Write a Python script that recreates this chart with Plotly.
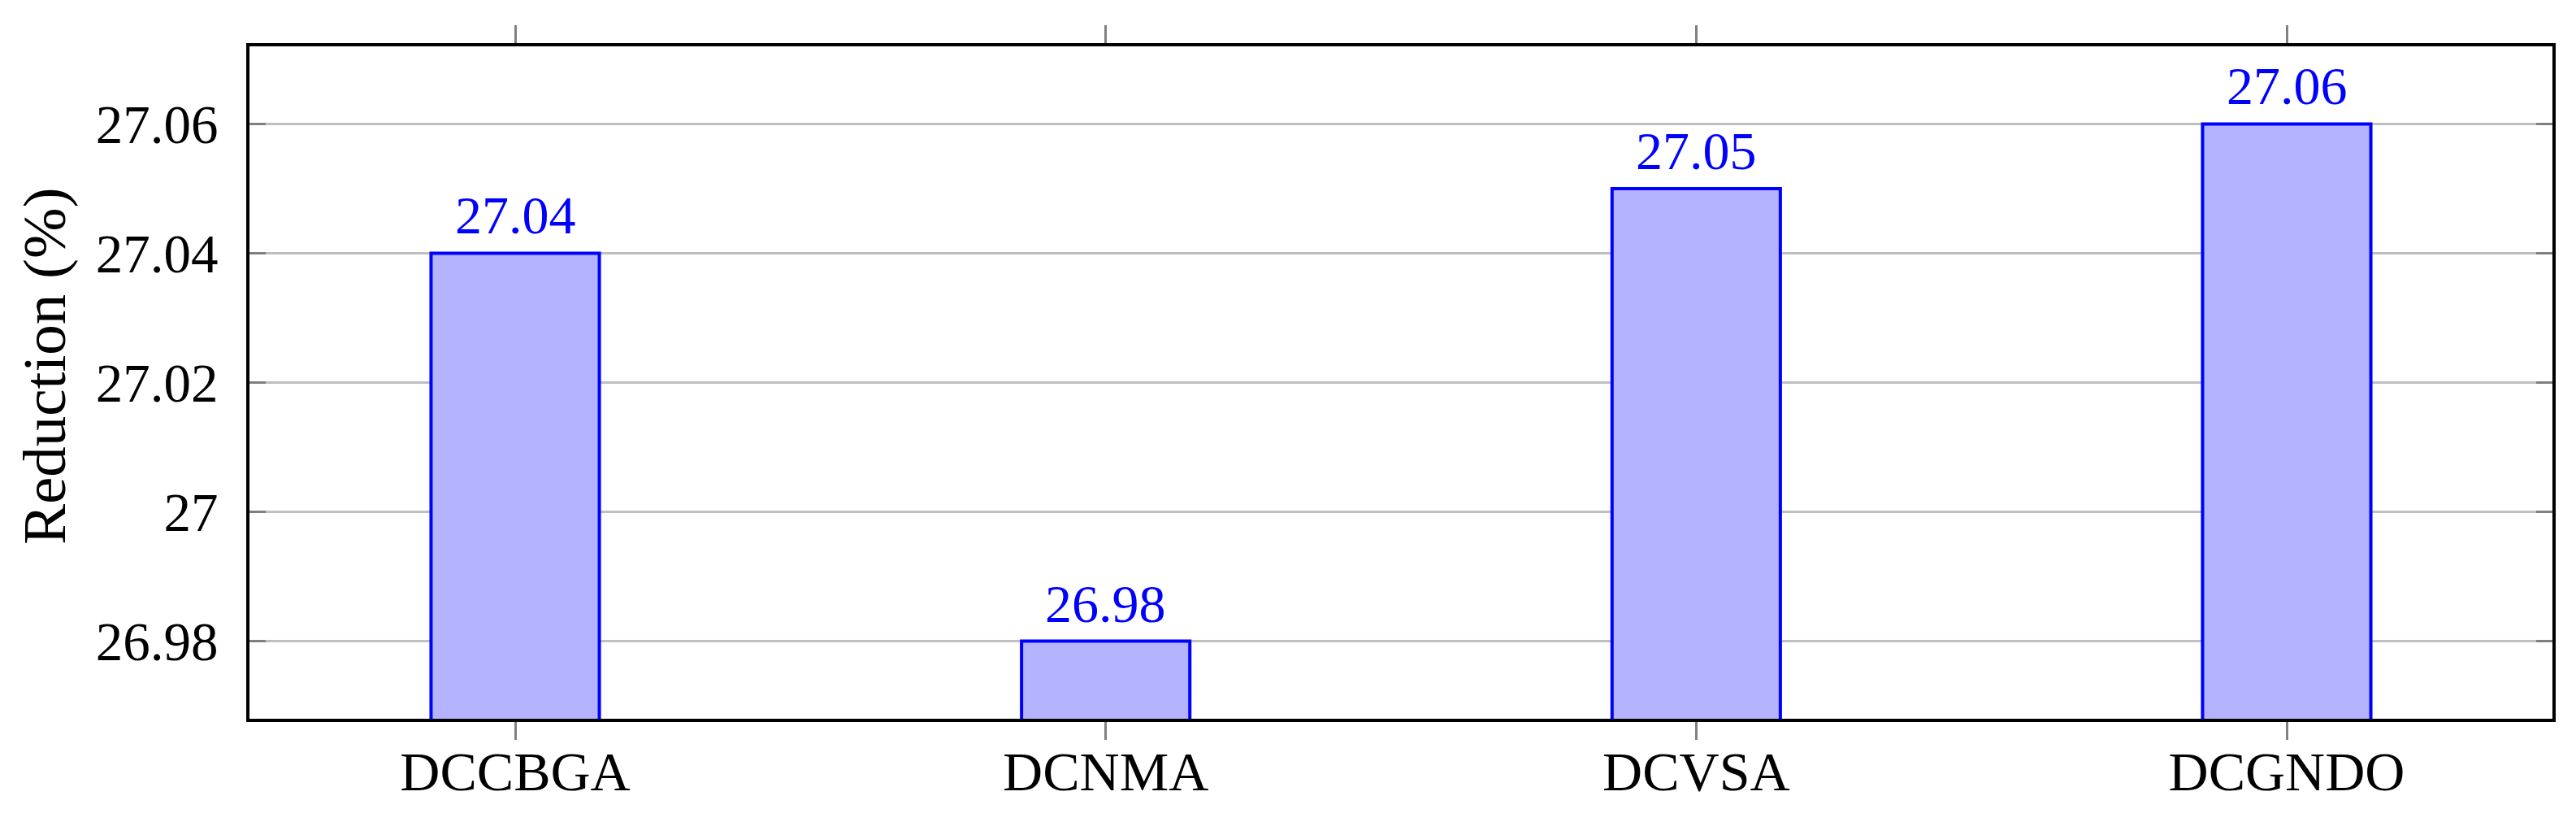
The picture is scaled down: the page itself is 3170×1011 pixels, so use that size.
import plotly.graph_objects as go

categories = ["DCCBGA", "DCNMA", "DCVSA", "DCGNDO"]
reduction = [27.04, 26.98, 27.05, 27.06]
value_labels = ["27.04", "26.98", "27.05", "27.06"]
y_tick_values = [26.98, 27.0, 27.02, 27.04, 27.06]
y_tick_labels = ["26.98", "27", "27.02", "27.04", "27.06"]
y_title = "Reduction (%)"

FONT = "Liberation Serif"

fig = go.Figure()
fig.add_trace(go.Bar(
    x=categories,
    y=reduction,
    width=0.285,
    marker=dict(color="#b3b3ff", line=dict(color="#0000ff", width=4)),
    showlegend=False,
))

for cat, val, lab in zip(categories, reduction, value_labels):
    fig.add_annotation(
        x=cat, y=val, xref="x", yref="y",
        text=lab, showarrow=False,
        yanchor="bottom", xanchor="center", yshift=8,
        font=dict(family=FONT, size=66, color="#0000ff"),
    )

# y-axis title
fig.add_annotation(
    x=0, y=0.5236, xref="paper", yref="paper",
    text=y_title, showarrow=False, textangle=-90,
    xanchor="center", yanchor="middle", xshift=-252,
    font=dict(family=FONT, size=75, color="black"),
)

fig.update_layout(
    width=3162,
    height=1003,
    margin=dict(l=299, r=29, t=49, b=127, autoexpand=False),
    paper_bgcolor="white",
    plot_bgcolor="white",
    font=dict(family=FONT, size=66, color="black"),
)

fig.update_xaxes(
    type="category",
    range=[-0.45, 3.45],
    showline=True, linecolor="black", linewidth=4, mirror="allticks",
    ticks="outside", ticklen=22, tickwidth=3, tickcolor="#808080",
    showgrid=False, zeroline=False,
    tickfont=dict(family=FONT, size=68, color="black"),
    ticklabelstandoff=-20,
)

fig.update_yaxes(
    range=[26.968, 27.072],
    tickmode="array", tickvals=y_tick_values, ticktext=y_tick_labels,
    showline=True, linecolor="black", linewidth=4, mirror="allticks",
    ticks="inside", ticklen=20, tickwidth=3, tickcolor="#808080",
    showgrid=True, gridcolor="#bfbfbf", gridwidth=3,
    zeroline=False,
    tickfont=dict(family=FONT, size=67, color="black"),
    ticklabelstandoff=21,
    automargin=False,
)

fig.write_html("out.html")
